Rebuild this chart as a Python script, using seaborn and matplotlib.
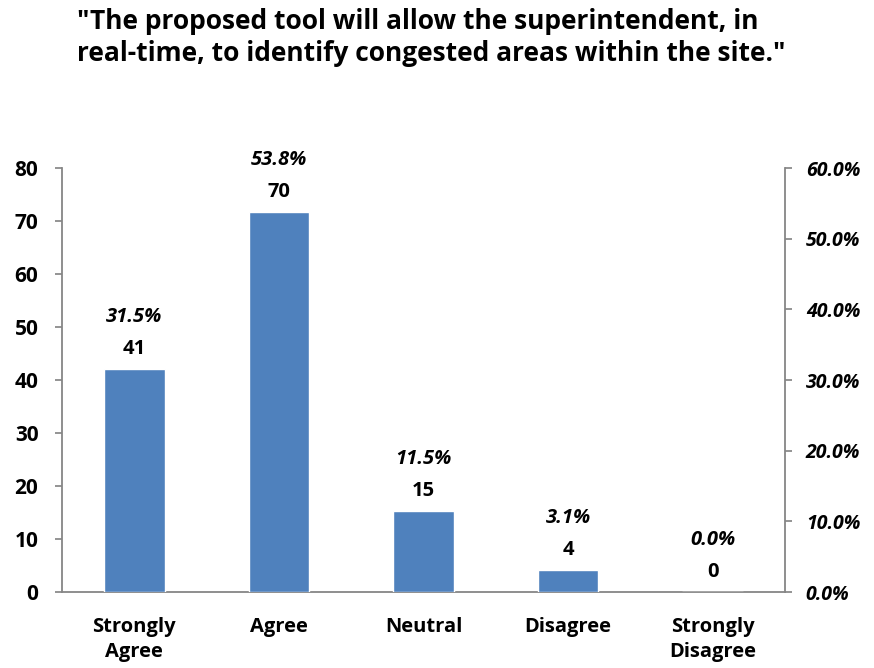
import matplotlib
matplotlib.use("Agg")
import matplotlib.pyplot as plt
import seaborn as sns
import pandas as pd
from matplotlib.ticker import FixedLocator

# Survey responses
categories = ["Strongly\nAgree", "Agree", "Neutral", "Disagree", "Strongly\nDisagree"]
counts = [41, 70, 15, 4, 0]
percents = [31.5, 53.8, 11.5, 3.1, 0.0]
count_ticks = [0, 10, 20, 30, 40, 50, 60, 70, 80]
pct_ticks = [0, 10, 20, 30, 40, 50, 60]
title = ('"The proposed tool will allow the superintendent, in\n'
         'real-time, to identify congested areas within the site."')

sns.set_theme(style="white")
plt.rcParams['font.family'] = ['Open Sans', 'DejaVu Sans']
plt.rcParams['text.color'] = 'black'

BAR_COLOR = "#4F81BD"
AXIS_COLOR = "#868686"
FS = 15

df = pd.DataFrame({"category": categories, "count": counts, "pct": percents})

fig = plt.figure(figsize=(8.74, 6.68), dpi=100)
ax = fig.add_axes([62 / 874, 76 / 668, (785 - 62) / 874, (592 - 168) / 668])
ax2 = ax.twinx()

# bars are drawn against the percentage axis
sns.barplot(data=df, x="category", y="pct", color=BAR_COLOR, width=0.42,
            saturation=1, ax=ax2)

ax.set_xlim(-0.5, len(categories) - 0.5)
ax.set_ylim(0, 80)
ax2.set_ylim(0, 60)

ax.set_yticks(count_ticks)
ax.set_yticklabels([str(t) for t in count_ticks], fontsize=FS,
                   fontweight="bold", color="black")
ax2.set_yticks(pct_ticks)
ax2.set_yticklabels([f"{t:.1f}%" for t in pct_ticks], fontsize=FS - 1,
                    fontweight="bold", fontstyle="italic", color="black")

ax.set_xticks(range(len(categories)))
ax.set_xticklabels(categories, fontsize=FS - 0.5, fontweight="bold", color="black",
                   linespacing=1.3)
ax.xaxis.set_minor_locator(FixedLocator([i - 0.5 for i in range(len(categories) + 1)]))
ax.tick_params(axis="x", which="major", length=0, pad=18)
ax.tick_params(axis="x", which="minor", length=6, color=AXIS_COLOR, direction="out")
ax.tick_params(axis="y", length=5, color=AXIS_COLOR, direction="out", pad=12)
ax2.tick_params(axis="y", length=5, color=AXIS_COLOR, direction="out", pad=10)
ax.set_xlabel("")
ax2.set_xlabel("")
ax2.set_ylabel("")
ax.set_ylabel("")

for a in (ax, ax2):
    a.spines["top"].set_visible(False)
    for s in a.spines.values():
        s.set_color(AXIS_COLOR)
        s.set_linewidth(1.3)
    a.grid(False)
ax2.spines["left"].set_visible(False)
ax2.spines["bottom"].set_visible(False)
ax.spines["right"].set_visible(False)

# data labels: count and percentage above each bar
for i, (c, p) in enumerate(zip(counts, percents)):
    ax2.annotate(str(c), (i, p), xytext=(0, 20), textcoords="offset pixels",
                 ha="center", va="center", fontsize=FS - 0.5, fontweight="bold",
                 color="black")
    ax2.annotate(f"{p:.1f}%", (i, p), xytext=(0, 52), textcoords="offset pixels",
                 ha="center", va="center", fontsize=FS - 0.5, fontweight="bold",
                 fontstyle="italic", color="black")

fig.text(77 / 874, 1 - 8 / 668, title, ha="left", va="top", fontsize=19,
         fontweight="bold", linespacing=1.25, color="black")

fig.savefig("out.png", dpi=100, facecolor="white")
